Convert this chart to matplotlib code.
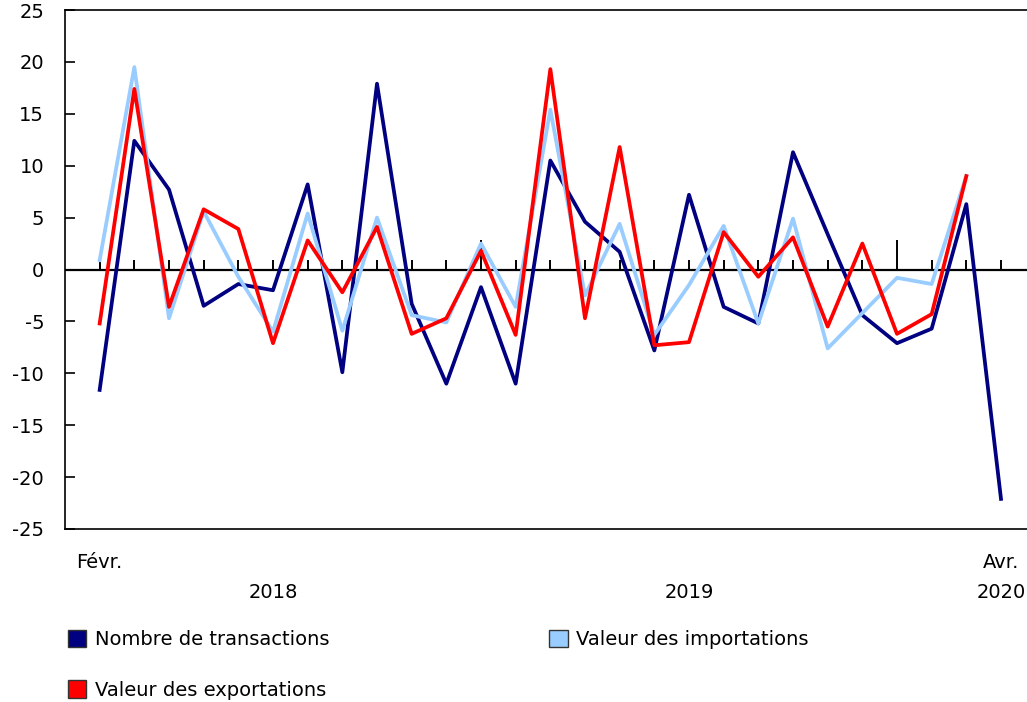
import matplotlib.pyplot as plt
from matplotlib.patches import Patch
import matplotlib.transforms as mtransforms

# Monthly change, Feb 2018 .. Apr 2020
months = list(range(27))
transactions = [-11.6, 12.4, 7.7, -3.5, -1.4, -2.0, 8.2, -9.9, 17.9, -3.3,
                -11.0, -1.7, -11.0, 10.5, 4.6, 1.7, -7.8, 7.2, -3.6, -5.2,
                11.3, 3.4, -4.4, -7.1, -5.7, 6.3, -22.1]
imports = [0.9, 19.5, -4.7, 5.6, -0.7, -6.0, 5.4, -5.9, 5.0, -4.4,
           -5.1, 2.5, -3.6, 15.4, -2.5, 4.4, -6.3, -1.5, 4.2, -5.2,
           4.9, -7.6, -4.2, -0.8, -1.4, 9.0]
exports = [-5.2, 17.4, -3.6, 5.8, 3.9, -7.1, 2.8, -2.2, 4.1, -6.2,
           -4.7, 1.8, -6.3, 19.3, -4.7, 11.8, -7.3, -7.0, 3.6, -0.7,
           3.1, -5.5, 2.5, -6.2, -4.3, 9.0]

month_labels = {0: "Févr.", 26: "Avr."}
year_labels = {5: "2018", 17: "2019", 26: "2020"}
january_idx = [11, 23]

series_names = ["Nombre de transactions", "Valeur des importations", "Valeur des exportations"]
colors = ["#000080", "#99ccff", "#ff0000"]

plt.rcParams['font.family'] = ['DejaVu Sans']
plt.rcParams['font.size'] = 14
plt.rcParams['axes.unicode_minus'] = False

fig = plt.figure(figsize=(10.27, 7.02), dpi=100)
ax = fig.add_axes([65 / 1027, 1 - 529 / 702, 1 - 65 / 1027, 519 / 702])

ax.plot(months[:len(imports)], imports, color=colors[1], lw=2.7, zorder=3)
ax.plot(months[:len(exports)], exports, color=colors[2], lw=2.7, zorder=4)
ax.plot(months, transactions, color=colors[0], lw=2.7, zorder=2)

ax.set_xlim(-1, 26.75)
ax.set_ylim(-25, 25)
ax.set_yticks(range(-25, 26, 5))
ax.tick_params(axis='y', direction='in', length=7.5, width=1.2, pad=15, labelsize=14)
ax.set_xticks([])
ax.spines['right'].set_visible(False)
for s in ['left', 'top', 'bottom']:
    ax.spines[s].set_linewidth(1.2)

# zero line with month ticks
ax.axhline(0, color='black', lw=1.6, zorder=1)
unit = 50 / 519  # data units per pixel
for m in months:
    h = 30 * unit if m in january_idx else 10 * unit
    ax.vlines(m, 0, h, color='black', lw=1.4, zorder=1)

trans = mtransforms.blended_transform_factory(ax.transData, ax.transAxes)
for m, lab in month_labels.items():
    ax.text(m, -34 / 519, lab, transform=trans, ha='center', va='center', fontsize=14)
for m, lab in year_labels.items():
    ax.text(m, -63 / 519, lab, transform=trans, ha='center', va='center', fontsize=14)

# legend fills column by column: col 1 = transactions, exports; col 2 = imports
order = [0, 2, 1]
handles = [Patch(facecolor=colors[i], edgecolor='#333333', lw=1) for i in order]
labels = [series_names[i] for i in order]
fig.legend(handles, labels, ncol=2, loc='upper left',
           bbox_to_anchor=(58 / 1027, 1 - 620 / 702), frameon=False,
           handlelength=0.95, handleheight=1.0, handletextpad=0.45,
           columnspacing=11.3, labelspacing=1.6, fontsize=14, borderpad=0)

fig.savefig("out.png", dpi=100)
